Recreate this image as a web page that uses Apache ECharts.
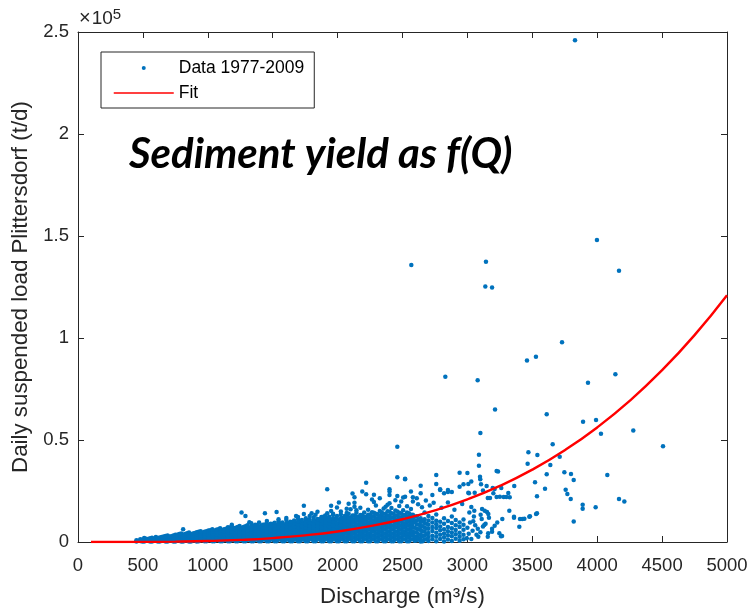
<!DOCTYPE html>
<html>
<head>
<meta charset="utf-8">
<script src="https://cdn.jsdelivr.net/npm/echarts@6.0.0/dist/echarts.min.js"></script>
<style>
  html, body { margin: 0; padding: 0; background: #ffffff; }
  #chart { width: 748px; height: 609px; }
</style>
</head>
<body>
<div id="chart"></div>
<script>
// Daily suspended sediment load at Plittersdorf versus discharge, 1977-2009.

// Dense part of the cloud: discharge columns (m³/s) and the daily loads (t/d) found in each.
const bandQ = [
  450, 480, 510, 540, 570, 600, 630, 660, 690, 720, 750, 780, 810, 840, 870, 900, 930, 960, 990,
  1020, 1050, 1080, 1110, 1140, 1170, 1200, 1230, 1260, 1290, 1320, 1350, 1380, 1410, 1440, 1470,
  1500, 1530, 1560, 1590, 1620, 1650, 1680, 1710, 1740, 1770, 1800, 1830, 1860, 1890, 1920, 1950,
  1980, 2010, 2040, 2070, 2100, 2130, 2160, 2190, 2220, 2250, 2280, 2310, 2340, 2370, 2400, 2430,
  2460, 2490, 2520, 2550, 2580, 2610, 2640, 2670, 2700, 2730, 2760, 2790, 2820, 2850, 2880, 2910,
  2940, 2970
];
const bandLoads = [
  [200, 900],
  [500, 1300],
  [200, 1100, 1900],
  [600, 1500],
  [300, 1200, 2100],
  [700, 1600, 2400],
  [300, 1200, 2200],
  [700, 1700, 2700],
  [300, 1300, 2300, 3200],
  [800, 1800, 2800],
  [300, 1300, 2400, 3500],
  [800, 1900, 3000, 3900],
  [300, 1400, 2500, 3500, 6200],
  [900, 2000, 3100, 4300],
  [300, 1500, 2600, 3700],
  [900, 2100, 3300, 4400],
  [400, 1600, 2800, 4000, 5000],
  [1000, 2200, 3400, 4600],
  [400, 1700, 2900, 4100, 5300],
  [1000, 2300, 3600, 4800, 5800],
  [400, 1700, 3000, 4300, 5500],
  [1000, 2400, 3700, 5000, 6200],
  [400, 1800, 3100, 4500, 5800],
  [1100, 2500, 3900, 5200, 6500],
  [400, 1800, 3200, 4600, 6000, 7100],
  [1100, 2500, 3900, 5300, 6700],
  [400, 1800, 3300, 4700, 6100, 7400],
  [1100, 2600, 4000, 5500, 6900, 14400],
  [400, 1900, 3400, 4800, 6300, 7700, 12700],
  [1100, 2600, 4100, 5600, 7000, 9700],
  [400, 1900, 3400, 4900, 6400, 7800],
  [1200, 2700, 4200, 5700, 7200, 8300],
  [400, 1900, 3500, 5000, 6500, 8000],
  [1200, 2700, 4300, 5800, 7300, 8600, 14100],
  [400, 2000, 3500, 5100, 6600, 8100],
  [1200, 2800, 4300, 5900, 7400, 8800],
  [400, 2000, 3600, 5100, 6700, 8200, 14700],
  [1200, 2800, 4400, 6000, 7500, 9000],
  [400, 2000, 3600, 5200, 6800, 8400],
  [1200, 2800, 4400, 6000, 7600, 9200],
  [400, 2000, 3700, 5300, 6900, 8500, 9800],
  [1200, 2900, 4500, 6100, 7700, 9300, 12700],
  [400, 2100, 3700, 5400, 7000, 8600, 10000],
  [1200, 2900, 4500, 6200, 7800, 9400, 13700, 17800],
  [400, 2100, 3800, 5400, 7100, 8700, 10300],
  [1300, 2900, 4600, 6300, 7900, 9600, 14100],
  [400, 2100, 3800, 5500, 7200, 8900, 10500, 13400],
  [1300, 3000, 4700, 6400, 8100, 9800, 11100],
  [400, 2100, 3800, 5600, 7300, 9000, 10700, 12400],
  [1300, 3000, 4700, 6500, 8200, 9900, 11500, 25800, 14100],
  [400, 2200, 3900, 5600, 7400, 9100, 10800, 15200, 17800],
  [1300, 3100, 4800, 6600, 8300, 10000, 11400],
  [400, 2200, 3900, 5700, 7500, 9200, 11000, 19400],
  [1300, 3100, 4900, 6700, 8400, 10200, 11800],
  [400, 2200, 4000, 5800, 7600, 9400, 11200, 12600, 16300, 14200],
  [1300, 3100, 4900, 6700, 8500, 10300, 12000, 16000],
  [400, 2200, 4000, 5800, 7600, 9400, 11200, 13000, 17300, 21900, 19300],
  [1300, 3100, 5000, 6800, 8600, 10400, 12200],
  [400, 2300, 4100, 5900, 7700, 9600, 11400, 13200, 24700],
  [1400, 3200, 5000, 6900, 8700, 10500, 12400, 29100, 23400],
  [400, 2300, 4100, 6000, 7800, 9700, 11500, 13400],
  [1400, 3200, 5100, 6900, 8800, 10600, 12500, 14300, 19600, 23200],
  [400, 2300, 4200, 6000, 7900, 9800, 11700, 13600],
  [1400, 3300, 5100, 7000, 8900, 10800, 12700, 14600],
  [400, 2300, 4200, 6100, 8000, 9900, 11800, 13700, 17300],
  [1400, 3300, 5200, 7100, 9000, 10900, 12800, 14800, 25800, 23000, 24700, 19000],
  [400, 2300, 4200, 6100, 8000, 10000, 11900, 13800],
  [1400, 3300, 5200, 7200, 9100, 11000, 13000, 15000, 31700, 22500, 46700],
  [400, 2300, 4300, 6200, 8100, 10100, 12000, 14000, 19800],
  [1400, 3400, 5300, 7300, 9200, 11200, 13200, 30700, 22200, 31000],
  [400, 2400, 4300, 6300, 8200, 10200, 12200, 14100],
  [1400, 3400, 5300, 7300, 9300, 11300, 13300, 21900, 19800],
  [800, 2700, 4600, 6500, 8700, 10500, 12600, 21400],
  [300, 1900, 3800, 5900, 7800, 9800, 11700, 23900, 27600],
  [1200, 3200, 5100, 7100, 9300, 11200, 14500],
  [500, 2400, 4400, 6500, 8400, 10600, 12800],
  [1300, 3100, 5400, 7300, 9600, 11800, 23000],
  [400, 2600, 4500, 6900, 8700, 10400, 32800, 28400, 13500],
  [1500, 3500, 5700, 7600, 9900, 25500, 25800],
  [300, 2300, 4200, 6300, 8900, 11600, 23900],
  [1200, 3300, 5300, 7400, 10300, 24500, 25500],
  [500, 2800, 4700, 6700, 9300, 12500, 24500],
  [1600, 3800, 5900, 8200, 10800],
  [600, 2600, 4500, 7300, 9500, 34000, 27100],
  [1400, 3500, 6000, 8400, 11000, 28300]
];

// Days falling between the columns above.
const bandQ2 = [
  465, 495, 525, 555, 585, 615, 645, 675, 705, 735, 765, 795, 825, 855, 885, 915, 945, 975,
  1005, 1035, 1065, 1095, 1125, 1155, 1185, 1215, 1245, 1275, 1305, 1335, 1365, 1395, 1425, 1455,
  1485, 1515, 1545, 1575, 1605, 1635, 1665, 1695, 1725, 1755, 1785, 1815, 1845, 1875, 1905, 1935,
  1965, 1995, 2025, 2055, 2085, 2115, 2145, 2175, 2205, 2235, 2265, 2295, 2325, 2355, 2385, 2415,
  2445, 2475, 2505, 2535, 2565, 2595, 2625, 2655, 2685
];
const bandLoads2 = [
  [600],
  [300, 1100],
  [800, 1600],
  [300, 1100, 1800],
  [700, 1600],
  [300, 1100, 2000],
  [800, 1700, 2500],
  [300, 1200, 2100, 2900],
  [800, 1800, 2700],
  [300, 1300, 2300, 3200],
  [800, 1800, 2900, 3600],
  [300, 1400, 2400, 3400, 4200],
  [900, 1900, 3000, 3900],
  [300, 1400, 2500, 3600, 4600],
  [900, 2000, 3100, 4200],
  [300, 1500, 2700, 3800, 4800],
  [1000, 2100, 3300, 4400, 5300],
  [400, 1600, 2800, 4000, 5000],
  [1000, 2200, 3500, 4700, 5600],
  [400, 1700, 2900, 4200, 5300, 6300],
  [1000, 2300, 3600, 4900, 6000],
  [400, 1700, 3100, 4400, 5600, 6700],
  [1000, 2400, 3800, 5100, 6300],
  [400, 1800, 3200, 4500, 5900, 7200],
  [1100, 2500, 3900, 5300, 6600, 7600, 8500],
  [400, 1800, 3200, 4600, 6000, 7000],
  [1100, 2500, 3900, 5400, 6800, 7900],
  [400, 1800, 3300, 4700, 6200, 7300],
  [1100, 2600, 4000, 5500, 7000, 8200],
  [400, 1900, 3400, 4800, 6300, 7600, 9200],
  [1100, 2600, 4100, 5600, 7100, 8400],
  [400, 1900, 3400, 4900, 6500, 7400, 9600],
  [1200, 2700, 4200, 5700, 7200, 8500],
  [400, 2000, 3500, 5000, 6500, 8000, 9000, 10300],
  [1200, 2700, 4300, 5800, 7300, 8900],
  [400, 2000, 3500, 5100, 6600, 8200, 9400],
  [1200, 2800, 4300, 5900, 7400, 9000, 10200, 11200],
  [400, 2000, 3600, 5200, 6700, 8300, 9600],
  [1200, 2800, 4400, 6000, 7600, 9100, 10800, 11800],
  [400, 2000, 3600, 5200, 6800, 8400, 9900],
  [1200, 2800, 4500, 6100, 7700, 9300, 10500],
  [400, 2100, 3700, 5300, 6900, 8500, 10100, 11400, 12200],
  [1200, 2900, 4500, 6200, 7800, 9400, 10800],
  [400, 2100, 3700, 5400, 7000, 8700, 10300, 11700],
  [1300, 2900, 4600, 6200, 7900, 9500, 11000, 12800],
  [400, 2100, 3800, 5500, 7100, 8800, 10400, 12100],
  [1300, 3000, 4700, 6300, 8000, 9700, 11300, 14800],
  [400, 2100, 3800, 5500, 7200, 8900, 10600, 12200],
  [1300, 3000, 4700, 6400, 8100, 9800, 11500, 13000],
  [400, 2200, 3900, 5600, 7300, 9000, 10700, 12400],
  [1300, 3000, 4800, 6500, 8200, 9900, 11600, 13300, 13900],
  [400, 2200, 3900, 5700, 7400, 9100, 10900, 12700, 16900],
  [1300, 3100, 4800, 6600, 8300, 10100, 11800, 13600, 15000],
  [400, 2200, 4000, 5700, 7500, 9300, 11000, 12800],
  [1300, 3100, 4900, 6700, 8400, 10200, 12000, 13900, 18700],
  [400, 2200, 4000, 5800, 7600, 9400, 11200, 13000, 23800],
  [1400, 3200, 5000, 6800, 8600, 10400, 12200, 14300, 15600],
  [400, 2300, 4100, 5900, 7700, 9500, 11300, 13200, 16800],
  [1400, 3200, 5000, 6800, 8700, 10500, 12300, 14500],
  [400, 2300, 4100, 6000, 7800, 9600, 11500, 13300, 15800],
  [1400, 3200, 5100, 6900, 8800, 10700, 12500, 14600, 20800],
  [400, 2300, 4200, 6000, 7900, 9800, 11600, 13800, 17900],
  [1400, 3300, 5100, 7000, 8900, 10800, 12700, 15200, 21500],
  [400, 2300, 4200, 6100, 8000, 9900, 11800, 13900, 16400],
  [1400, 3300, 5200, 7100, 9000, 10900, 12900, 15100, 18200],
  [400, 2300, 4200, 6200, 8100, 10000, 12000, 14100, 16700],
  [1400, 3300, 5200, 7200, 9100, 11100, 13000, 15400, 20500],
  [400, 2300, 4300, 6200, 8200, 10100, 12100, 14300, 17600],
  [1400, 3400, 5300, 7300, 9200, 11200, 13200, 15600, 21800],
  [400, 2400, 4300, 6300, 8300, 10300, 12300, 14400, 17500],
  [1400, 3400, 5400, 7400, 9300, 11300, 13400, 24700, 16200],
  [600, 2500, 4600, 7000, 9900, 12400],
  [1500, 3600, 6200, 8500, 11000],
  [400, 2900, 5300, 7700, 10200],
  [1300, 3800, 6600, 9000]
];

// Sparse high-flow days and isolated high-load events: [discharge m³/s, load t/d].
const sparsePoints = [
  [2568, 135800], [3143, 137400], [3138, 125300], [3190, 124800], [2830, 81000],
  [2620, 18500], [2650, 17000], [2680, 20300], [2710, 17900], [2740, 19200], [2800, 16800],
  [2850, 19400], [2900, 15800], [2960, 18600],
  [3000, 33800], [3007, 28400], [3012, 23900], [3030, 29600], [3056, 24200], [3007, 24200],
  [3015, 14400], [3030, 17200], [2995, 1800], [3053, 15300], [3102, 13400],
  [3000, 7000], [3020, 9500], [3040, 5500], [3060, 8200], [3080, 6500], [3045, 10200],
  [3010, 4000], [3070, 3500], [3030, 1500], [3100, 4800], [3120, 7600], [3140, 9000],
  [3190, 6500], [3190, 5000], [3160, 4300], [3110, 11300], [3050, 12500], [3130, 8300],
  [3210, 8000], [3084, 2600], [3157, 2600],
  [3079, 79300], [3089, 42800], [3089, 37400], [3097, 32000], [3099, 30700], [3105, 28300],
  [3100, 53400], [3120, 25200], [3148, 27500],
  [3113, 16200], [3133, 15300], [3151, 14700], [3161, 13700], [3166, 11900], [3157, 21600],
  [3174, 21600], [3195, 26500], [3210, 26000], [3200, 23900],
  [3225, 34800], [3236, 34500], [3230, 9500], [3246, 4300], [3259, 2800], [3267, 2900],
  [3261, 26500], [3269, 11300], [3213, 65000],
  [3225, 22000], [3250, 22200], [3280, 22000], [3315, 24000], [3300, 22100], [3326, 21900],
  [3323, 15300], [3359, 11900], [3361, 27400], [3359, 12400],
  [3400, 7500], [3405, 11300], [3423, 11300], [3439, 11400], [3477, 12400], [3482, 12600],
  [3529, 13700], [3536, 14100], [3536, 22400],
  [3459, 89000], [3464, 38400], [3470, 44000], [3521, 29300], [3528, 90800], [3539, 42600],
  [3598, 26100], [3611, 33200], [3611, 62600], [3639, 37700], [3657, 47900], [3711, 41800],
  [3729, 97900], [3747, 34200], [3757, 25600], [3770, 23500], [3796, 21100], [3798, 33300],
  [3819, 30400], [3819, 10000], [3829, 246000], [3888, 18300], [3888, 16300], [3891, 59000],
  [3929, 78100], [3988, 17000], [3991, 59800], [3998, 148000], [4029, 53100], [4078, 32800],
  [4140, 82200], [4168, 133000], [4168, 21100], [4209, 19800], [4278, 54600], [4507, 46900]
];

// Fitted rating curve, sampled along discharge.
const fitQ = [100, 250, 500, 750, 1000, 1250, 1500, 1750, 2000, 2250, 2500, 2750, 3000,
              3250, 3500, 3750, 4000, 4250, 4500, 4750, 5000];
const fitLoad = [0, 4, 44, 177, 476, 1027, 1923, 3271, 5175, 7757, 11150, 15475, 20870,
                 27490, 35480, 44980, 56160, 69190, 84220, 101420, 121000];

// Axis ticks.
const xTicks = [0, 500, 1000, 1500, 2000, 2500, 3000, 3500, 4000, 4500, 5000];
const yTicks = [0, 50000, 100000, 150000, 200000, 250000];
const yScaleExponent = 5;

const scatterData = [];
bandQ.forEach((q, i) => bandLoads[i].forEach(v => scatterData.push([q, v])));
bandQ2.forEach((q, i) => bandLoads2[i].forEach(v => scatterData.push([q, v])));
sparsePoints.forEach(p => scatterData.push(p));
const fitData = fitQ.map((q, i) => [q, fitLoad[i]]);

const FONT = '"Liberation Sans", Arial, Helvetica, sans-serif';
const INK = '#262626';

const xMin = xTicks[0], xMax = xTicks[xTicks.length - 1], xStep = xTicks[1] - xTicks[0];
const yMin = yTicks[0], yMax = yTicks[yTicks.length - 1], yStep = yTicks[1] - yTicks[0];
const yDiv = Math.pow(10, yScaleExponent);

const boxAxisCommon = {
  type: 'value',
  axisLine: { show: true, onZero: false, lineStyle: { color: INK, width: 1 } },
  axisTick: { show: true, inside: true, length: 6, lineStyle: { color: INK, width: 1 } },
  splitLine: { show: false }
};

const chart = echarts.init(document.getElementById('chart'), null, { renderer: 'canvas' });
chart.setOption({
  animation: false,
  backgroundColor: '#ffffff',
  grid: { left: 78, right: 21, top: 32, bottom: 67, containLabel: false, outerBoundsMode: 'none' },
  title: {
    text: 'Sediment yield as f(Q)',
    left: 129, top: 133, padding: 0,
    textStyle: { fontFamily: 'Lato, "Open Sans", sans-serif', fontSize: 42, fontWeight: 'bold', fontStyle: 'italic', color: '#000000' }
  },
  legend: {
    left: 101, top: 52, orient: 'vertical',
    itemWidth: 60, itemHeight: 4, itemGap: 7,
    padding: [7, 10, 6, 12],
    borderColor: INK, borderWidth: 1, backgroundColor: '#ffffff',
    textStyle: { fontFamily: FONT, fontSize: 17.5, color: '#000000', lineHeight: 18 },
    selectedMode: false,
    data: [
      { name: 'Data 1977-2009', icon: 'circle' },
      { name: 'Fit', lineStyle: { width: 1.5 }, itemStyle: { opacity: 0 } }
    ]
  },
  xAxis: [
    Object.assign({}, boxAxisCommon, {
      min: xMin, max: xMax, interval: xStep,
      name: 'Discharge (m³/s)', nameLocation: 'middle', nameGap: 44,
      nameTextStyle: { fontFamily: FONT, fontSize: 22.3, color: INK },
      axisLabel: { fontFamily: FONT, fontSize: 18.5, color: INK, margin: 14,
                   formatter: v => String(v) }
    }),
    Object.assign({}, boxAxisCommon, {
      position: 'top', min: xMin, max: xMax, interval: xStep,
      axisLabel: { show: false }
    })
  ],
  yAxis: [
    Object.assign({}, boxAxisCommon, {
      min: yMin, max: yMax, interval: yStep,
      name: 'Daily suspended load Plittersdorf (t/d)', nameLocation: 'middle', nameGap: 46,
      nameTextStyle: { fontFamily: FONT, fontSize: 22.3, color: INK },
      axisLabel: { fontFamily: FONT, fontSize: 18.5, color: INK, margin: 9,
                   formatter: v => String(+(v / yDiv).toFixed(2)) }
    }),
    Object.assign({}, boxAxisCommon, {
      position: 'right', min: yMin, max: yMax, interval: yStep,
      axisLabel: { show: false }
    })
  ],
  graphic: [{
    type: 'text', left: 79, top: 7, silent: true,
    style: {
      text: '{x|×}{a|10}{b|' + yScaleExponent + '}',
      rich: {
        x: { fontFamily: FONT, fontSize: 20, fill: INK, padding: [0, 1, 0, 0] },
        a: { fontFamily: FONT, fontSize: 19, fill: INK },
        b: { fontFamily: FONT, fontSize: 15, fill: INK, padding: [0, 0, 8, 0] }
      }
    }
  }],
  series: [
    {
      name: 'Data 1977-2009', type: 'scatter', data: scatterData,
      xAxisIndex: 0, yAxisIndex: 0,
      symbol: 'circle', symbolSize: 4.5,
      itemStyle: { color: '#0072BD', opacity: 1 },
      emphasis: { disabled: true }, z: 2
    },
    {
      name: 'Fit', type: 'line', data: fitData,
      xAxisIndex: 0, yAxisIndex: 0,
      symbol: 'none', showSymbol: false, smooth: true,
      lineStyle: { color: '#FF0000', width: 2.4 },
      itemStyle: { color: '#FF0000' },
      emphasis: { disabled: true }, z: 3
    }
  ]
});
</script>
</body>
</html>
